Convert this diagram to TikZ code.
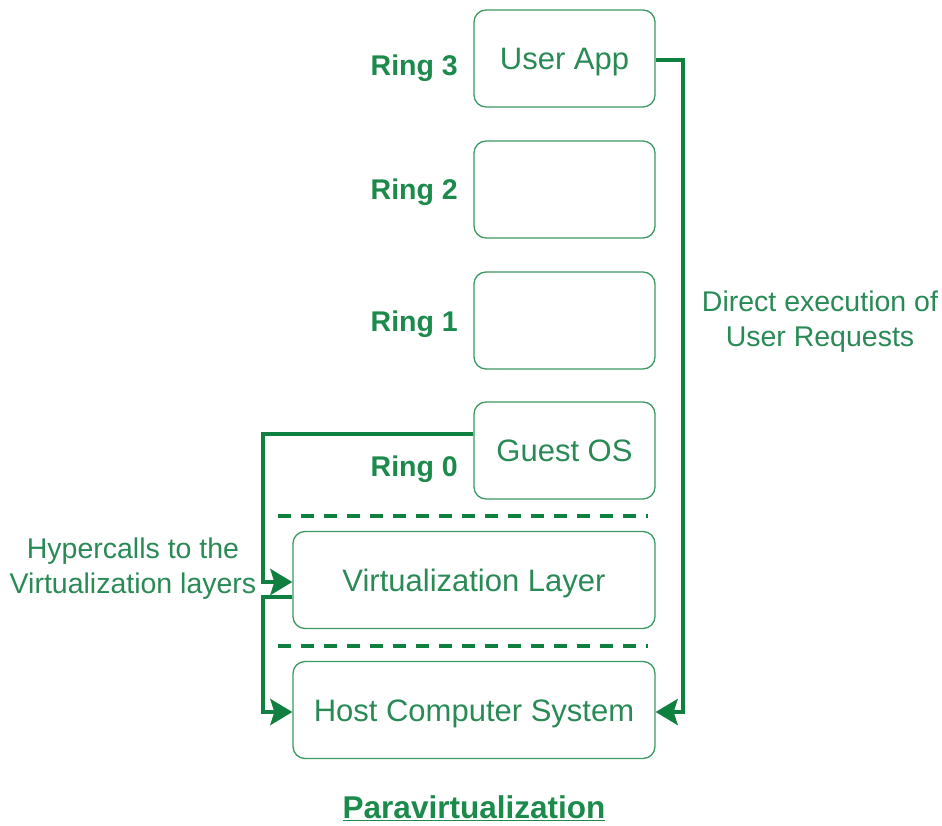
\documentclass[tikz,border=0pt]{standalone}
\usepackage{fontspec}
\setmainfont{Liberation Sans}
\usetikzlibrary{arrows.meta,calc}

\definecolor{txtgreen}{HTML}{2A8A55}
\definecolor{boldgreen}{HTML}{1B8A4A}
\definecolor{linegreen}{HTML}{108040}
\definecolor{boxgreen}{HTML}{3A9A62}

\tikzset{
  layerbox/.style={draw=boxgreen, line width=1.3pt, rounded corners=12pt,
    text=txtgreen, font=\fontsize{31}{36}\selectfont, inner sep=0pt,
    text height=22pt, text depth=0pt},
  ringbox/.style={layerbox, minimum width=181pt, minimum height=97pt},
  widebox/.style={layerbox, minimum width=362pt, minimum height=97pt},
  ringlabel/.style={anchor=east, inner sep=0pt, text height=20.5pt, text depth=0pt,
    text=boldgreen, font=\bfseries\fontsize{28.5}{34}\selectfont},
  note/.style={align=center, text=txtgreen, font=\fontsize{28.5}{35}\selectfont},
  conn/.style={draw=linegreen, line width=4pt},
  arr/.style={conn, -{Stealth[length=22pt,width=26pt,inset=4pt]}},
  sep/.style={draw=linegreen, line width=4pt, dash pattern=on 13pt off 10pt},
}

\begin{document}
\begin{tikzpicture}[x=1pt, y=-1pt]
  \useasboundingbox (0,0) rectangle (942,826);

  % protection rings of the guest
  \node[ringbox] (app)   at (564.5,58.5)  {User App};
  \node[ringbox] (ring2) at (564.5,189.5) {};
  \node[ringbox] (ring1) at (564.5,320.5) {};
  \node[ringbox] (guest) at (564.5,450.5) {Guest OS};

  % lower layers
  \node[widebox] (virt) at (474,580) {Virtualization Layer};
  \node[widebox] (host) at (474,710) {Host Computer System};

  % ring labels
  \node[ringlabel] (r3) at (458,65)  {Ring 3};
  \node[ringlabel] (r2) at (458,189) {Ring 2};
  \node[ringlabel] (r1) at (458,321) {Ring 1};
  \node[ringlabel] (r0) at (458,466) {Ring 0};

  % layer separators
  \coordinate (s1a) at (278,516); \coordinate (s1b) at (648,516);
  \coordinate (s2a) at (278,646); \coordinate (s2b) at (648,646);
  \draw[sep] (s1a) -- (s1b);
  \draw[sep] (s2a) -- (s2b);

  % hypercall path on the left
  \coordinate (busA) at (263,500);
  \coordinate (busB) at (263,650);
  \draw[arr] ([yshift=17pt]guest.west) -| (busA) |- ([yshift=-2pt]virt.west);
  \draw[arr] ([yshift=-17pt]virt.west) -| (busB) |- ([yshift=-2pt]host.west);

  % direct execution path on the right
  \coordinate (busR) at (683,300);
  \draw[arr] ([yshift=-2pt]app.east) -| (busR) |- ([yshift=-2pt]host.east);

  % annotations
  \node[note] (direct) at (820,322) {Direct execution of\\User Requests};
  \node[note] (hyper)  at (133,569) {Hypercalls to the\\Virtualization layers};

  \node[text=boldgreen, font=\bfseries\fontsize{31.5}{36}\selectfont] (title) at (474,808)
    {\underline{Paravirtualization}};
\end{tikzpicture}
\end{document}
